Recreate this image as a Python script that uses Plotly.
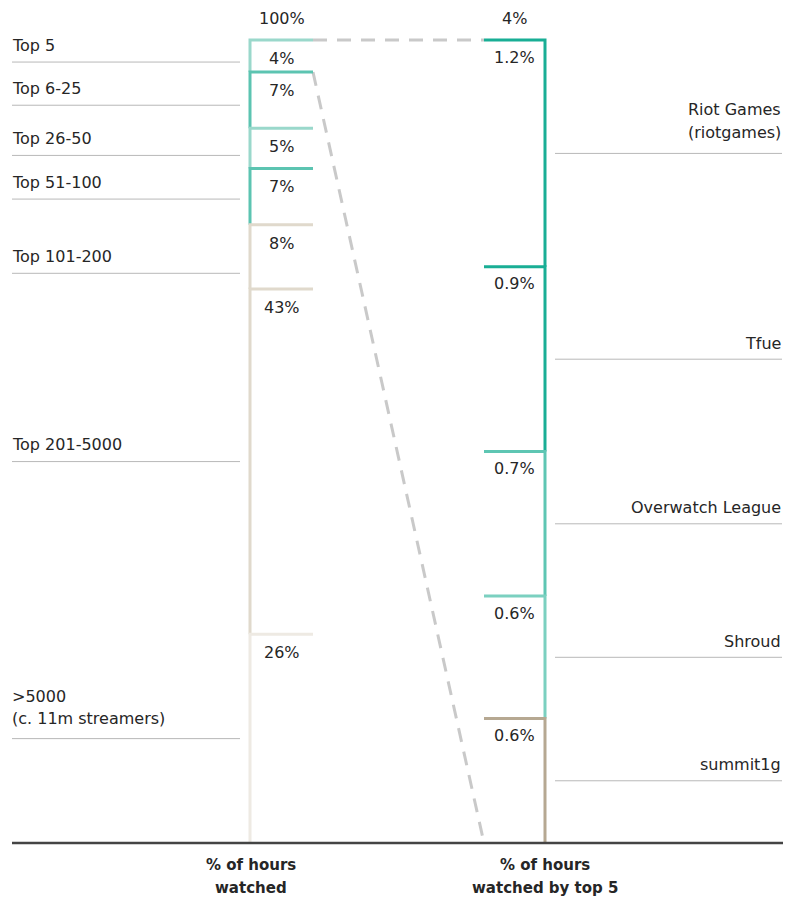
import plotly.graph_objects as go

# ---------------- data ----------------
groups = ["Top 5", "Top 6-25", "Top 26-50", "Top 51-100", "Top 101-200",
          "Top 201-5000", ">5000<br>(c. 11m streamers)"]
share = [4, 7, 5, 7, 8, 43, 26]
share_labels = ["4%", "7%", "5%", "7%", "8%", "43%", "26%"]

streamers = ["Riot Games<br>(riotgames)", "Tfue", "Overwatch League", "Shroud", "summit1g"]
top5_share = [1.13, 0.92, 0.72, 0.61, 0.62]
top5_labels = ["1.2%", "0.9%", "0.7%", "0.6%", "0.6%"]

axis_titles = ["% of hours<br>watched", "% of hours<br>watched by top 5"]
total_labels = ["100%", "4%"]

# ---------------- style ----------------
group_colors = ["#9ad8cb", "#5cc4b1", "#9ad8cb", "#5cc4b1", "#e0d9cc", "#e0d9cc", "#eeeae3"]
streamer_colors = ["#19ae95", "#19ae95", "#5ec6b3", "#7bd0c0", "#b6a892"]
FONT = "DejaVu Sans"
FS = 16
TXT = "#262626"
W, H = 797, 899
TOP_PX, BOT_PX = 40, 843
PX = BOT_PX - TOP_PX
LX, LX2 = 250, 313        # left column vertical / horizontal end
RX1, RX = 484, 545        # right column horizontal start / vertical
LINE_GAP = 22.5           # px between lines of multi-line labels
# small vertical nudges (px) for left-hand label leader lines
left_nudge = [6, 5, 7, 2.5, 16.5, 0, 0]

fig = go.Figure()
ann = []
shapes = []


def col_bounds(vals):
    tot = float(sum(vals))
    tops, bots = [], []
    c = 0.0
    for v in vals:
        tops.append(1 - c / tot)
        c += v
        bots.append(1 - c / tot)
    return tops, bots


def add_label(x, y, text, xanchor, last_shift, bold=False, size=FS, downward=False):
    lines = text.split("<br>")
    n = len(lines)
    for k, ln in enumerate(lines):
        if downward:
            shift = last_shift - k * LINE_GAP
        else:
            shift = last_shift + (n - 1 - k) * LINE_GAP
        ann.append(dict(x=x, y=y, text=("<b>" + ln + "</b>") if bold else ln,
                        showarrow=False, xanchor=xanchor, yanchor="middle", yshift=shift,
                        font=dict(family=FONT, size=size, color=TXT)))


ltops, lbots = col_bounds(share)
rtops, rbots = col_bounds(top5_share)

# dashed connectors
fig.add_trace(go.Scatter(x=[LX2, RX1], y=[ltops[0], rtops[0]], mode="lines",
                         line=dict(color="#c9c9c9", width=3, dash="14px,10px"),
                         hoverinfo="skip", showlegend=False))
fig.add_trace(go.Scatter(x=[LX2, RX1], y=[lbots[0], rbots[-1]], mode="lines",
                         line=dict(color="#c9c9c9", width=3, dash="14px,10px"),
                         hoverinfo="skip", showlegend=False))

# left column
for i, g in enumerate(groups):
    fig.add_trace(go.Scatter(x=[LX2, LX, LX], y=[ltops[i], ltops[i], lbots[i]],
                             mode="lines", line=dict(color=group_colors[i], width=3),
                             name=g, hoverinfo="skip", showlegend=False))
    add_label((LX + LX2) / 2, ltops[i], share_labels[i], "center", -18.5)
    ly = (ltops[i] + lbots[i]) / 2 - left_nudge[i] / PX
    shapes.append(dict(type="line", xref="x", yref="y", x0=12, x1=240, y0=ly, y1=ly,
                       line=dict(color="#b8b8b8", width=1)))
    add_label(10, ly, g, "left", 17 if "<br>" not in g else 20)

# right column
for i, s in enumerate(streamers):
    fig.add_trace(go.Scatter(x=[RX1, RX, RX], y=[rtops[i], rtops[i], rbots[i]],
                             mode="lines", line=dict(color=streamer_colors[i], width=3),
                             name=s, hoverinfo="skip", showlegend=False))
    add_label((RX1 + RX) / 2, rtops[i], top5_labels[i], "center", -17)
    ry = (rtops[i] + rbots[i]) / 2
    shapes.append(dict(type="line", xref="x", yref="y", x0=555, x1=782, y0=ry, y1=ry,
                       line=dict(color="#b8b8b8", width=1)))
    add_label(783, ry, s, "right", 16 if "<br>" not in s else 21)

# totals on top
for xc, t in zip([(LX + LX2) / 2, (RX1 + RX) / 2], total_labels):
    add_label(xc, 1, t, "center", 22)

# baseline
shapes.append(dict(type="line", xref="x", yref="y", x0=12, x1=783, y0=0, y1=0,
                   line=dict(color="#444444", width=2.5)))

# bottom titles
for xc, t in zip([LX + 1, RX], axis_titles):
    add_label(xc, 0, t, "center", -22, bold=True, size=15, downward=True)

fig.update_layout(
    width=W, height=H, autosize=False,
    margin=dict(l=0, r=0, t=0, b=0),
    paper_bgcolor="white", plot_bgcolor="white",
    xaxis=dict(range=[0, W], visible=False, fixedrange=True),
    yaxis=dict(range=[-(H - BOT_PX) / PX, 1 + TOP_PX / PX], visible=False, fixedrange=True),
    annotations=ann, shapes=shapes,
)

fig.write_html("out.html", config={"displayModeBar": False},
               post_script="document.body.style.margin='0';"
                           "document.documentElement.style.overflow='hidden';")
